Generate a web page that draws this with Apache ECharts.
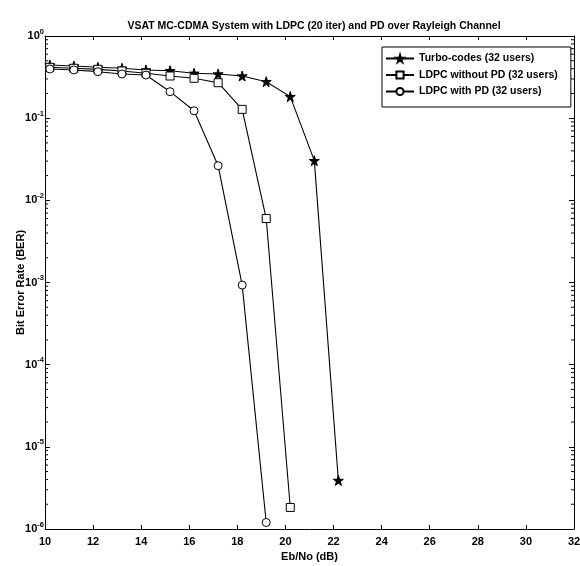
<!DOCTYPE html>
<html>
<head>
<meta charset="utf-8">
<script src="https://cdn.jsdelivr.net/npm/echarts@6/dist/echarts.min.js"></script>
<style>
  html, body { margin: 0; padding: 0; background: #fff; }
  #chart { width: 580px; height: 566px; }
</style>
</head>
<body>
<div id="chart"></div>
<script>
// Eb/No values (dB)
const ebNo = [10.2, 11.2, 12.2, 13.2, 14.2, 15.2, 16.2, 17.2, 18.2, 19.2, 20.2, 21.2, 22.2]

// BER for each curve
const turboBer = [0.444, 0.431, 0.416, 0.405, 0.386, 0.378, 0.352, 0.345, 0.326, 0.278, 0.183, 0.0304, 3.9e-6]
const ldpcNoPdBer = [0.416, 0.405, 0.393, 0.375, 0.352, 0.326, 0.306, 0.270, 0.128, 6.0e-3, 1.83e-6]
const ldpcPdBer = [0.397, 0.386, 0.368, 0.345, 0.335, 0.210, 0.123, 0.0264, 9.3e-4, 1.2e-6]

const seriesNames = ['Turbo-codes (32 users)', 'LDPC without PD (32 users)', 'LDPC with PD (32 users)']

// minor ticks of the log axis: 2..9 x 10^k
const minorTicks = []
for (let k = -6; k < 0; k++) {
  for (let m = 2; m <= 9; m++) minorTicks.push(m * Math.pow(10, k))
}

const font = '"Liberation Sans Narrow", "Arial Narrow", "Liberation Sans", Arial, sans-serif'
const starPath = 'path://M50,0 L61,35 L98,35 L68,57 L79,91 L50,70 L21,91 L32,57 L2,35 L39,35 Z'

const pairs = (ys) => ys.map((y, i) => [ebNo[i], y])

const chart = echarts.init(document.getElementById('chart'))

const lineSeries = (name, ys, symbol, size, fill) => ({
  name: name,
  type: 'line',
  data: pairs(ys),
  symbol: symbol,
  symbolSize: size,
  showSymbol: true,
  lineStyle: { color: '#000', width: 1.1 },
  itemStyle: { color: fill, borderColor: '#000', borderWidth: 1 },
  emphasis: { disabled: true },
  z: 3
})

const option = {
  animation: false,
  title: {
    text: 'VSAT MC-CDMA System with LDPC (20 iter) and PD over Rayleigh Channel',
    left: 309,
    textAlign: 'center',
    top: 16,
    textStyle: { fontFamily: font, fontSize: 10.5, fontWeight: 'bold', color: '#000' }
  },
  legend: {
    data: seriesNames,
    orient: 'vertical',
    left: 382,
    top: 47,
    itemWidth: 28,
    itemHeight: 9,
    itemGap: 5.5,
    padding: [6, 13, 10, 3],
    borderColor: '#000',
    borderWidth: 1,
    backgroundColor: '#fff',
    textStyle: { fontFamily: font, fontSize: 10.5, fontWeight: 'bold', color: '#000' }
  },
  grid: { left: 45, right: 6, top: 36, bottom: 37, outerBoundsMode: 'none' },
  xAxis: [
    {
      type: 'value',
      min: 10,
      max: 32,
      interval: 2,
      name: 'Eb/No (dB)',
      nameLocation: 'middle',
      nameGap: 22,
      nameMoveOverlap: false,
      nameTextStyle: { fontFamily: font, fontSize: 11, fontWeight: 'bold', color: '#000' },
      axisLine: { lineStyle: { color: '#000', width: 1 } },
      axisTick: { inside: true, length: 4, lineStyle: { color: '#000' } },
      axisLabel: { margin: 7, fontFamily: font, fontSize: 11, fontWeight: 'bold', color: '#000' },
      splitLine: { show: false }
    },
    {
      type: 'value',
      position: 'top',
      min: 10,
      max: 32,
      interval: 2,
      axisLine: { lineStyle: { color: '#000', width: 1 } },
      axisTick: { inside: true, length: 4, lineStyle: { color: '#000' } },
      axisLabel: { show: false },
      splitLine: { show: false }
    }
  ],
  yAxis: [
    {
      type: 'log',
      logBase: 10,
      min: 1e-6,
      max: 1,
      name: 'Bit Error Rate (BER)',
      nameLocation: 'middle',
      nameGap: 19,
      nameMoveOverlap: false,
      nameTextStyle: { fontFamily: font, fontSize: 11, fontWeight: 'bold', color: '#000' },
      axisLine: { show: true, lineStyle: { color: '#000', width: 1 } },
      axisTick: { show: true, inside: true, length: 5, lineStyle: { color: '#000' } },
      axisLabel: {
        margin: 1,
        formatter: (v) => '{b|10}{e|' + Math.round(Math.log10(v)) + '}',
        rich: {
          b: { fontFamily: font, fontSize: 11, fontWeight: 'bold', color: '#000' },
          e: { fontFamily: font, fontSize: 7.5, fontWeight: 'bold', color: '#000', padding: [0, 0, 9, 0] }
        }
      },
      splitLine: { show: false }
    },
    {
      type: 'log',
      logBase: 10,
      min: 1e-6,
      max: 1,
      position: 'right',
      axisLine: { show: true, lineStyle: { color: '#000', width: 1 } },
      axisTick: { show: true, inside: true, length: 5, lineStyle: { color: '#000' } },
      axisLabel: { show: false },
      splitLine: { show: false }
    }
  ],
  series: [
    lineSeries(seriesNames[0], turboBer, starPath, 10, '#000'),
    lineSeries(seriesNames[1], ldpcNoPdBer, 'rect', 8, '#fff'),
    lineSeries(seriesNames[2], ldpcPdBer, 'circle', 8, '#fff'),
    {
      // minor log ticks on both sides of the box
      type: 'custom',
      data: minorTicks.map((v) => [10, v]),
      silent: true,
      z: 1,
      renderItem: (params, api) => {
        const y = api.coord([10, api.value(1)])[1]
        const cs = params.coordSys
        const st = { stroke: '#000', lineWidth: 1 }
        return {
          type: 'group',
          children: [
            { type: 'line', shape: { x1: cs.x, y1: y, x2: cs.x + 3, y2: y }, style: st },
            { type: 'line', shape: { x1: cs.x + cs.width - 3, y1: y, x2: cs.x + cs.width, y2: y }, style: st }
          ]
        }
      }
    }
  ]
}

chart.setOption(option)
</script>
</body>
</html>
